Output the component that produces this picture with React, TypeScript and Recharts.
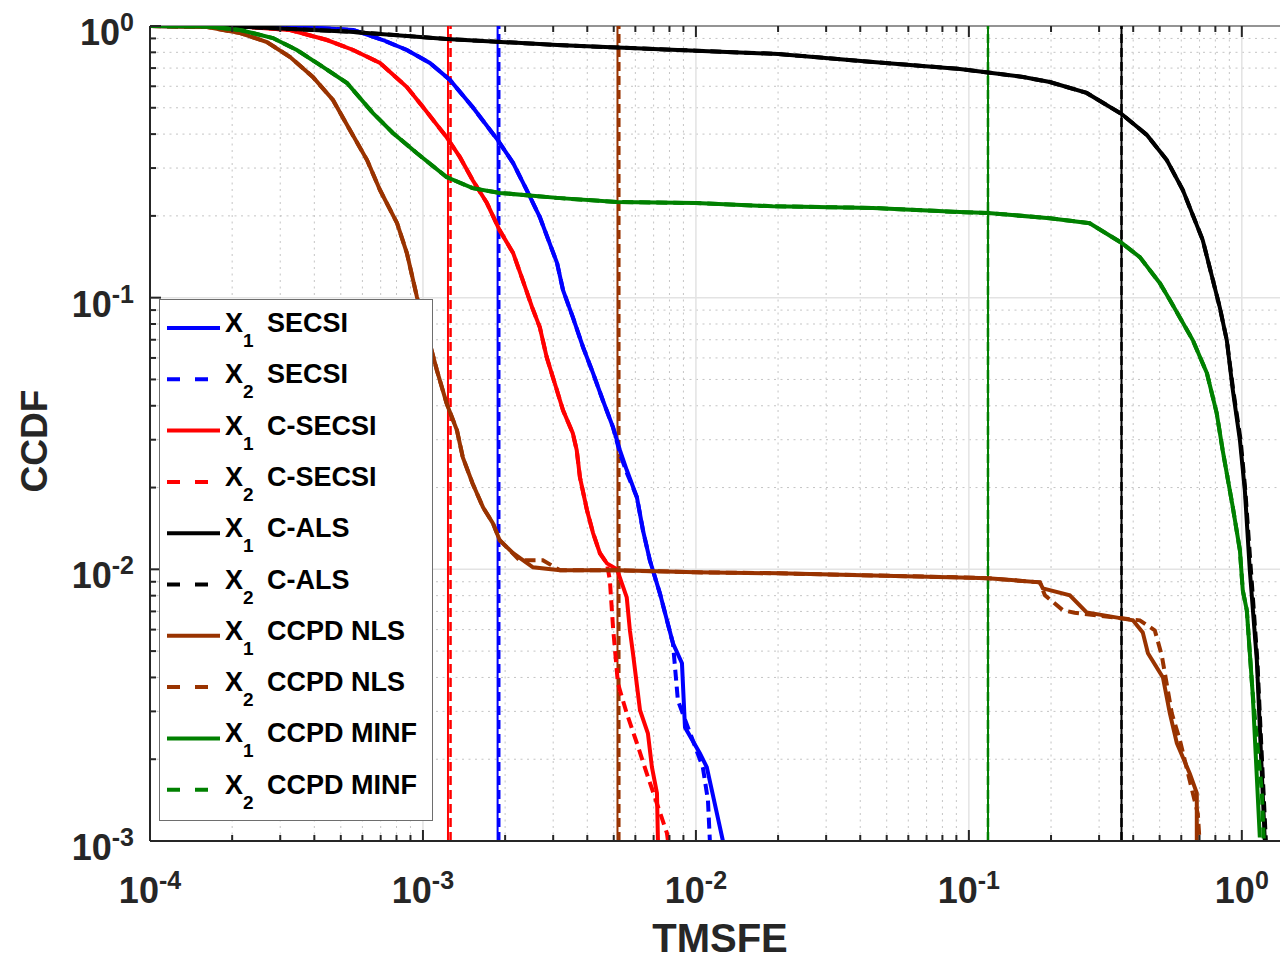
import React from 'react';
import { LineChart, Line, XAxis, YAxis, ReferenceLine, Legend } from 'recharts';

// ---- data ----
const secsiX1X = [1e-4, 3.26e-4, 5.55e-4, 7.13e-4, 8.73e-4, 1.06e-3, 1.256e-3, 1.52e-3, 1.88e-3, 2.14e-3, 2.4e-3, 2.68e-3, 3.1e-3, 3.26e-3, 3.54e-3, 3.86e-3, 4.2e-3, 4.56e-3, 4.97e-3, 5.27e-3, 5.58e-3, 6.08e-3, 6.4e-3, 6.78e-3, 7.38e-3, 8.24e-3, 8.89e-3, 9.12e-3, 1.035e-2, 1.096e-2, 1.256e-2];
const secsiX1Y = [1, 0.996, 0.967, 0.888, 0.816, 0.731, 0.633, 0.503, 0.38, 0.313, 0.249, 0.198, 0.134, 0.1066, 0.0848, 0.0657, 0.0527, 0.0419, 0.0333, 0.0274, 0.0232, 0.0184, 0.0139, 0.0108, 0.00816, 0.00534, 0.00451, 0.00262, 0.0021, 0.00187, 0.001];
const secsiX2X = [1e-4, 3.26e-4, 5.55e-4, 7.13e-4, 8.73e-4, 1.06e-3, 1.256e-3, 1.52e-3, 1.88e-3, 2.14e-3, 2.4e-3, 2.68e-3, 3.1e-3, 3.26e-3, 3.54e-3, 3.86e-3, 4.2e-3, 4.56e-3, 4.97e-3, 5.3e-3, 5.6e-3, 6.08e-3, 6.4e-3, 6.78e-3, 7.38e-3, 8.24e-3, 8.59e-3, 1.06e-2, 1.107e-2, 1.125e-2];
const secsiX2Y = [1, 0.996, 0.967, 0.888, 0.816, 0.731, 0.633, 0.503, 0.38, 0.313, 0.249, 0.198, 0.134, 0.1066, 0.0848, 0.0657, 0.0527, 0.0419, 0.0333, 0.0262, 0.0225, 0.0184, 0.0139, 0.0108, 0.00816, 0.00534, 0.00329, 0.00187, 0.00141, 0.001];

const csecsiX1X = [1e-4, 2.14e-4, 3.26e-4, 4.45e-4, 5.55e-4, 6.96e-4, 8.73e-4, 1e-3, 1.22e-3, 1.366e-3, 1.52e-3, 1.715e-3, 1.91e-3, 2.14e-3, 2.32e-3, 2.51e-3, 2.68e-3, 2.84e-3, 3.04e-3, 3.26e-3, 3.54e-3, 3.66e-3, 3.76e-3, 3.99e-3, 4.2e-3, 4.45e-3, 4.72e-3, 5.14e-3, 5.58e-3, 5.73e-3, 5.88e-3, 6.24e-3, 6.67e-3, 6.9e-3, 7.2e-3, 7.26e-3];
const csecsiX1Y = [1, 0.996, 0.967, 0.888, 0.816, 0.731, 0.596, 0.503, 0.39, 0.329, 0.271, 0.223, 0.177, 0.146, 0.116, 0.0923, 0.0778, 0.0604, 0.0484, 0.0385, 0.0317, 0.0274, 0.0218, 0.0165, 0.0136, 0.01146, 0.01052, 0.01, 0.00788, 0.00596, 0.00491, 0.00303, 0.00249, 0.00187, 0.0015, 0.001];
const csecsiX2X = [1e-4, 2.14e-4, 3.26e-4, 4.45e-4, 5.55e-4, 6.96e-4, 8.73e-4, 1e-3, 1.22e-3, 1.366e-3, 1.52e-3, 1.715e-3, 1.91e-3, 2.14e-3, 2.32e-3, 2.51e-3, 2.68e-3, 2.84e-3, 3.04e-3, 3.26e-3, 3.54e-3, 3.66e-3, 3.76e-3, 3.99e-3, 4.2e-3, 4.45e-3, 4.72e-3, 4.84e-3, 4.97e-3, 5.18e-3, 5.58e-3, 6.08e-3, 6.61e-3, 7.83e-3, 7.9e-3];
const csecsiX2Y = [1, 0.996, 0.967, 0.888, 0.816, 0.731, 0.596, 0.503, 0.39, 0.329, 0.271, 0.223, 0.177, 0.146, 0.116, 0.0923, 0.0778, 0.0604, 0.0484, 0.0385, 0.0317, 0.0274, 0.0218, 0.0165, 0.0136, 0.01146, 0.01052, 0.00912, 0.00611, 0.0038, 0.00295, 0.00229, 0.00177, 0.00107, 0.001];

const calsX1X = [1e-4, 2.32e-4, 5.41e-4, 1.22e-3, 3.1e-3, 0.01, 0.02, 0.0445, 0.0927, 0.158, 0.198, 0.27, 0.363, 0.449, 0.531, 0.608, 0.719, 0.83, 0.881, 0.927, 0.984, 1.026, 1.07, 1.135, 1.164, 1.214];
const calsX1Y = [1, 0.991, 0.953, 0.896, 0.851, 0.811, 0.789, 0.737, 0.695, 0.649, 0.622, 0.567, 0.474, 0.397, 0.321, 0.249, 0.163, 0.0923, 0.0697, 0.0456, 0.0299, 0.0195, 0.0099, 0.00462, 0.00262, 0.001];
const calsX2X = [1e-4, 2.32e-4, 5.41e-4, 1.22e-3, 3.1e-3, 0.01, 0.02, 0.0445, 0.0927, 0.158, 0.198, 0.27, 0.363, 0.449, 0.531, 0.608, 0.719, 0.83, 0.881, 0.93, 0.99, 1.03, 1.08, 1.14, 1.17, 1.225];
const calsX2Y = [1, 0.991, 0.953, 0.896, 0.851, 0.811, 0.789, 0.737, 0.695, 0.649, 0.622, 0.567, 0.474, 0.397, 0.321, 0.249, 0.163, 0.0923, 0.0697, 0.0456, 0.0299, 0.0195, 0.0099, 0.00462, 0.00262, 0.001];

const nlsX1X = [1e-4, 1.62e-4, 2.14e-4, 2.68e-4, 3.26e-4, 3.95e-4, 4.68e-4, 5.4e-4, 6.24e-4, 6.96e-4, 8.04e-4, 8.73e-4, 9.51e-4, 1.035e-3, 1.125e-3, 1.22e-3, 1.332e-3, 1.4e-3, 1.52e-3, 1.66e-3, 1.805e-3, 1.91e-3, 2.14e-3, 2.53e-3, 3.18e-3, 5.14e-3, 0.01, 0.02, 0.0445, 0.0927, 0.1175, 0.182, 0.1866, 0.2344, 0.27, 0.363, 0.399, 0.4335, 0.453, 0.514, 0.545, 0.578, 0.645, 0.684, 0.684];
const nlsX1Y = [1, 0.992, 0.942, 0.873, 0.769, 0.649, 0.534, 0.414, 0.321, 0.249, 0.188, 0.146, 0.1004, 0.074, 0.054, 0.0409, 0.0325, 0.0258, 0.0207, 0.0169, 0.01477, 0.0128, 0.01146, 0.01017, 0.00992, 0.00992, 0.00975, 0.00967, 0.0095, 0.00934, 0.00927, 0.00896, 0.00851, 0.00802, 0.00694, 0.0066, 0.00649, 0.00586, 0.00491, 0.004, 0.00295, 0.00229, 0.00177, 0.0015, 0.001];
const nlsX2X = [1e-4, 1.62e-4, 2.14e-4, 2.68e-4, 3.26e-4, 3.95e-4, 4.68e-4, 5.4e-4, 6.24e-4, 6.96e-4, 8.04e-4, 8.73e-4, 9.51e-4, 1.035e-3, 1.125e-3, 1.22e-3, 1.332e-3, 1.4e-3, 1.52e-3, 1.66e-3, 1.805e-3, 1.91e-3, 2.26e-3, 2.75e-3, 3.18e-3, 5.14e-3, 0.01, 0.02, 0.0445, 0.0927, 0.1175, 0.182, 0.19, 0.221, 0.244, 0.363, 0.423, 0.48, 0.509, 0.554, 0.593, 0.69, 0.7];
const nlsX2Y = [1, 0.992, 0.942, 0.873, 0.769, 0.649, 0.534, 0.414, 0.321, 0.249, 0.188, 0.146, 0.1004, 0.074, 0.054, 0.0409, 0.0325, 0.0258, 0.0207, 0.0169, 0.01477, 0.0128, 0.0108, 0.0108, 0.00992, 0.00992, 0.00975, 0.00967, 0.0095, 0.00934, 0.00927, 0.00896, 0.00802, 0.00707, 0.00692, 0.0066, 0.00649, 0.00596, 0.00482, 0.00295, 0.00235, 0.00126, 0.001];

const minfX1X = [1e-4, 1.62e-4, 2.14e-4, 2.82e-4, 3.45e-4, 4.31e-4, 5.27e-4, 6.56e-4, 7.76e-4, 9.51e-4, 1.22e-3, 1.52e-3, 1.91e-3, 3.18e-3, 5.14e-3, 0.01, 0.0191, 0.0445, 0.0927, 0.1175, 0.198, 0.277, 0.363, 0.423, 0.501, 0.545, 0.661, 0.745, 0.809, 0.851, 0.927, 0.984, 1.008, 1.043, 1.096, 1.164];
const minfX1Y = [1, 0.996, 0.967, 0.903, 0.816, 0.706, 0.617, 0.478, 0.404, 0.34, 0.278, 0.253, 0.243, 0.2325, 0.225, 0.223, 0.217, 0.214, 0.2065, 0.205, 0.196, 0.188, 0.159, 0.141, 0.113, 0.098, 0.0698, 0.0527, 0.0376, 0.0274, 0.0169, 0.01175, 0.00837, 0.00707, 0.00349, 0.00103];
const minfX2X = [1e-4, 1.62e-4, 2.14e-4, 2.82e-4, 3.45e-4, 4.31e-4, 5.27e-4, 6.56e-4, 7.76e-4, 9.51e-4, 1.22e-3, 1.52e-3, 1.91e-3, 3.18e-3, 5.14e-3, 0.01, 0.0191, 0.0445, 0.0927, 0.1175, 0.198, 0.277, 0.363, 0.423, 0.501, 0.545, 0.661, 0.745, 0.809, 0.851, 0.927, 0.984, 1.008, 1.043, 1.096, 1.183, 1.204];
const minfX2Y = [1, 0.996, 0.967, 0.903, 0.816, 0.706, 0.617, 0.478, 0.404, 0.34, 0.278, 0.253, 0.243, 0.2325, 0.225, 0.223, 0.217, 0.214, 0.2065, 0.205, 0.196, 0.188, 0.159, 0.141, 0.113, 0.098, 0.0698, 0.0527, 0.0376, 0.0274, 0.0169, 0.01175, 0.00837, 0.00707, 0.00349, 0.00153, 0.001];

// vertical marker lines, one per method (X1 solid, X2 dashed)
const refMethods = ['SECSI', 'C-SECSI', 'C-ALS', 'CCPD NLS', 'CCPD MINF'];
const refX1 = [1.877e-3, 1.235e-3, 0.3624, 5.16e-3, 0.1175];
const refX2 = [1.903e-3, 1.262e-3, 0.3624, 5.24e-3, 0.1175];

const xDecades = [1e-4, 1e-3, 1e-2, 1e-1, 1];
const yDecades = [1e-3, 1e-2, 1e-1, 1];
const minorSteps = [2, 3, 4, 5, 6, 7, 8, 9];

// ---- layout ----
const W = 1280;
const H = 960;
const PLOT_LEFT = 150;
const PLOT_TOP = 26;
const PLOT_BOTTOM = 841;
const X_MAX = 1.38;
const AXIS = '#262626';
const FONT = '"Liberation Sans", Arial, Helvetica, sans-serif';

const COLORS: Record<string, string> = {
  SECSI: '#0000ff',
  'C-SECSI': '#ff0000',
  'C-ALS': '#000000',
  'CCPD NLS': '#993300',
  'CCPD MINF': '#008000',
};

const zip = (xs: number[], ys: number[]) => xs.map((x, i) => ({ x, y: ys[i] }));

const series = [
  { sub: '1', name: 'SECSI', dashed: false, data: zip(secsiX1X, secsiX1Y) },
  { sub: '2', name: 'SECSI', dashed: true, data: zip(secsiX2X, secsiX2Y) },
  { sub: '1', name: 'C-SECSI', dashed: false, data: zip(csecsiX1X, csecsiX1Y) },
  { sub: '2', name: 'C-SECSI', dashed: true, data: zip(csecsiX2X, csecsiX2Y) },
  { sub: '1', name: 'C-ALS', dashed: false, data: zip(calsX1X, calsX1Y) },
  { sub: '2', name: 'C-ALS', dashed: true, data: zip(calsX2X, calsX2Y) },
  { sub: '1', name: 'CCPD NLS', dashed: false, data: zip(nlsX1X, nlsX1Y) },
  { sub: '2', name: 'CCPD NLS', dashed: true, data: zip(nlsX2X, nlsX2Y) },
  { sub: '1', name: 'CCPD MINF', dashed: false, data: zip(minfX1X, minfX1Y) },
  { sub: '2', name: 'CCPD MINF', dashed: true, data: zip(minfX2X, minfX2Y) },
];

const xMinor = xDecades.flatMap((d) => minorSteps.map((m) => m * d)).filter((v) => v < X_MAX);
const yMinor = yDecades.flatMap((d) => minorSteps.map((m) => m * d)).filter((v) => v < 1);
const xTicks = [...xDecades, ...xMinor].sort((a, b) => a - b);
const yTicks = [...yDecades, ...yMinor].sort((a, b) => a - b);

const isDecade = (v: number) => Math.abs(Math.log10(v) - Math.round(Math.log10(v))) < 1e-6;

const XTick = (props: any) => {
  const { x, payload } = props;
  const v = payload.value;
  const major = isDecade(v);
  const len = major ? 11 : 6;
  return (
    <g>
      <line x1={x} x2={x} y1={PLOT_BOTTOM} y2={PLOT_BOTTOM - len} stroke={AXIS} strokeWidth={2} />
      <line x1={x} x2={x} y1={PLOT_TOP} y2={PLOT_TOP + len} stroke={AXIS} strokeWidth={2} />
      {major && (
        <text x={x} y={903} textAnchor="middle" fontFamily={FONT} fontWeight="bold" fontSize={36} fill={AXIS}>
          10<tspan dy={-14} fontSize={25}>{String(Math.round(Math.log10(v)))}</tspan>
        </text>
      )}
    </g>
  );
};

const YTick = (props: any) => {
  const { y, payload } = props;
  const v = payload.value;
  const major = isDecade(v);
  const len = major ? 11 : 6;
  return (
    <g>
      <line x1={PLOT_LEFT} x2={PLOT_LEFT + len} y1={y} y2={y} stroke={AXIS} strokeWidth={2} />
      {major && (
        <text x={134} y={y + 19} textAnchor="end" fontFamily={FONT} fontWeight="bold" fontSize={36} fill={AXIS}>
          10<tspan dy={-14} fontSize={25}>{String(Math.round(Math.log10(v)))}</tspan>
        </text>
      )}
    </g>
  );
};

const LegendBox = () => (
  <svg width={275} height={523} style={{ display: 'block' }}>
    <rect x={0.5} y={0.5} width={273} height={521} fill="#ffffff" stroke="#6e6e6e" strokeWidth={1} />
    {series.map((s, i) => {
      const cy = 29 + 51.3 * i;
      const color = COLORS[s.name];
      return (
        <g key={i}>
          <line x1={8} x2={61} y1={cy} y2={cy} stroke={color} strokeWidth={4} strokeDasharray={s.dashed ? '13 15' : undefined} />
          <text x={66} y={cy + 4} fontFamily={FONT} fontWeight="bold" fontSize={27} fill="#000">
            X<tspan dy={15} fontSize={19}>{s.sub}</tspan>
            <tspan x={108} dy={-15} fontSize={27}>{s.name}</tspan>
          </text>
        </g>
      );
    })}
  </svg>
);

export default function App() {
  return (
    <div style={{ position: 'absolute', left: 0, top: 0, width: W, height: H, background: '#fff', overflow: 'hidden' }}>
      <LineChart width={W} height={H} margin={{ top: PLOT_TOP, right: 0, left: PLOT_LEFT - 80, bottom: H - PLOT_BOTTOM - 80 }}>
        <XAxis
          dataKey="x"
          type="number"
          scale="log"
          domain={[1e-4, X_MAX]}
          allowDataOverflow
          ticks={xTicks}
          interval={0}
          tick={XTick}
          tickLine={false}
          tickSize={0}
          height={80}
          axisLine={{ stroke: AXIS, strokeWidth: 2 }}
          label={{
            value: 'TMSFE',
            content: () => (
              <text x={720} y={952} textAnchor="middle" fontFamily={FONT} fontWeight="bold" fontSize={40} fill={AXIS}>
                TMSFE
              </text>
            ),
          }}
        />
        <YAxis
          type="number"
          scale="log"
          domain={[1e-3, 1]}
          allowDataOverflow
          ticks={yTicks}
          interval={0}
          tick={YTick}
          tickLine={false}
          tickSize={0}
          width={80}
          axisLine={{ stroke: AXIS, strokeWidth: 2 }}
          label={{
            value: 'CCDF',
            content: () => (
              <text
                x={47}
                y={441}
                transform="rotate(-90 47 441)"
                textAnchor="middle"
                fontFamily={FONT}
                fontWeight="bold"
                fontSize={37}
                fill={AXIS}
              >
                CCDF
              </text>
            ),
          }}
        />

        {/* minor grid */}
        {xMinor.map((v) => (
          <ReferenceLine key={'xm' + v} x={v} stroke="#c4c4c4" strokeWidth={1} strokeDasharray="2 4.5" zIndex={-60} />
        ))}
        {yMinor.map((v) => (
          <ReferenceLine key={'ym' + v} y={v} stroke="#c4c4c4" strokeWidth={1} strokeDasharray="2 4.5" zIndex={-60} />
        ))}
        {/* major grid */}
        {xDecades.slice(1).map((v) => (
          <ReferenceLine key={'xM' + v} x={v} stroke="#e3e3e3" strokeWidth={1.5} zIndex={-50} />
        ))}
        {yDecades.slice(1, 3).map((v) => (
          <ReferenceLine key={'yM' + v} y={v} stroke="#e3e3e3" strokeWidth={1.5} zIndex={-50} />
        ))}
        <ReferenceLine y={1} stroke="#707070" strokeWidth={1.5} />

        {refMethods.map((m, i) => (
          <ReferenceLine key={'r1' + m} x={refX1[i]} stroke={COLORS[m]} strokeWidth={2} />
        ))}
        {refMethods.map((m, i) => (
          <ReferenceLine key={'r2' + m} x={refX2[i]} stroke={COLORS[m]} strokeWidth={2.5} strokeDasharray="9 5" />
        ))}

        {series.map((s, i) => (
          <Line
            key={i}
            data={s.data}
            dataKey="y"
            type="linear"
            stroke={COLORS[s.name]}
            strokeWidth={4}
            strokeDasharray={s.dashed ? '11 6' : undefined}
            dot={false}
            activeDot={false}
            isAnimationActive={false}
            name={`X${s.sub} ${s.name}`}
          />
        ))}

        <Legend
          layout="vertical"
          align="center"
          verticalAlign="middle"
          content={() => <LegendBox />}
          wrapperStyle={{ left: 159, top: 299, width: 275, height: 523 }}
        />
      </LineChart>
    </div>
  );
}
